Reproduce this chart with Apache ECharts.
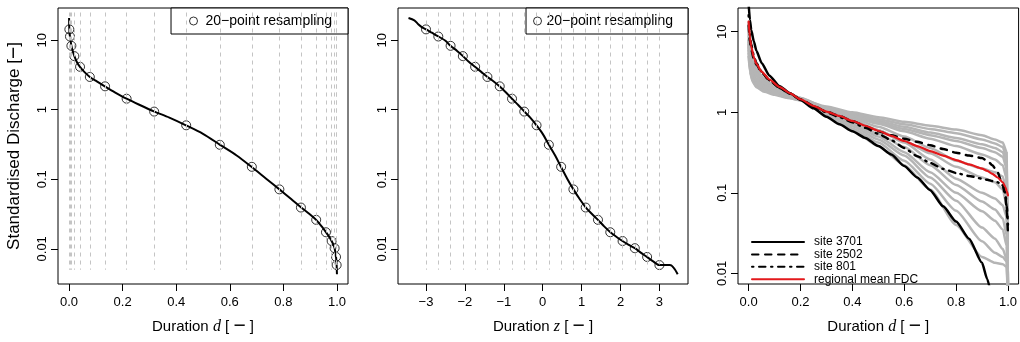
<!DOCTYPE html>
<html>
<head>
<meta charset="utf-8">
<script src="https://cdn.jsdelivr.net/npm/echarts@6/dist/echarts.min.js"></script>
<style>
  html, body { margin: 0; padding: 0; background: #fff; }
  #chart { width: 1020px; height: 342px; }
</style>
</head>
<body>
<div id="chart"></div>
<script>
  const curveZ = [-3.45, -3.3, -3.2, -3.1, -3.0, -2.85, -2.68, -2.5, -2.37, -2.2, -2.05, -1.9, -1.74, -1.58, -1.42, -1.26, -1.11, -0.95, -0.79, -0.63, -0.47, -0.32, -0.16, 0.0, 0.16, 0.32, 0.47, 0.63, 0.79, 0.95, 1.11, 1.26, 1.42, 1.58, 1.74, 1.9, 2.05, 2.2, 2.37, 2.52, 2.68, 2.84, 3.0, 3.27, 3.47];
  const curveD = [0.00028, 0.00048, 0.00069, 0.00097, 0.00135, 0.00219, 0.00368, 0.00621, 0.00889, 0.0139, 0.0202, 0.0287, 0.0409, 0.0571, 0.0778, 0.1038, 0.1335, 0.1711, 0.2148, 0.2643, 0.3192, 0.3745, 0.4364, 0.5, 0.5636, 0.6255, 0.6808, 0.7357, 0.7852, 0.8289, 0.8665, 0.8962, 0.9222, 0.9429, 0.9591, 0.9713, 0.9798, 0.9861, 0.9911, 0.9941, 0.9963, 0.99774, 0.99865, 0.99946, 0.99974];
  const curveQ = [20.8, 19.3, 17.0, 15.3, 14.3, 12.8, 11.3, 9.8, 8.3, 7.0, 5.9, 4.9, 4.14, 3.5, 2.96, 2.55, 2.17, 1.78, 1.44, 1.17, 0.94, 0.77, 0.597, 0.45, 0.313, 0.22, 0.151, 0.102, 0.0716, 0.052, 0.0392, 0.032, 0.0261, 0.021, 0.0173, 0.0148, 0.01294, 0.0115, 0.01021, 0.0088, 0.00764, 0.0066, 0.00584, 0.00584, 0.00432];

  // 20-point resampling
  const resZ = [-3.0, -2.684, -2.368, -2.053, -1.737, -1.421, -1.105, -0.789, -0.474, -0.158, 0.158, 0.474, 0.789, 1.105, 1.421, 1.737, 2.053, 2.368, 2.684, 3.0];
  const resD = [0.00135, 0.00364, 0.00894, 0.0200, 0.0412, 0.0777, 0.1346, 0.2150, 0.3178, 0.4373, 0.5627, 0.6822, 0.7850, 0.8654, 0.9223, 0.9588, 0.9800, 0.99106, 0.99636, 0.99865];
  const resQ = [14.3, 11.3, 8.3, 5.9, 4.14, 2.96, 2.17, 1.44, 0.94, 0.597, 0.313, 0.151, 0.0716, 0.0392, 0.0261, 0.0173, 0.01294, 0.01021, 0.00764, 0.00584];

  // panel 3: site curves
  const siteD = [0, 0.005, 0.01, 0.02, 0.03, 0.05, 0.08, 0.12, 0.16, 0.2, 0.25, 0.3, 0.35, 0.4, 0.45, 0.5, 0.55, 0.6, 0.65, 0.7, 0.75, 0.8, 0.85, 0.9, 0.92, 0.94, 0.96, 0.98, 0.99, 0.995, 1.0];
  const site3701 = [22, 14, 10.5, 7.6, 5.8, 4.1, 2.85, 2.1, 1.72, 1.42, 1.12, 0.88, 0.71, 0.58, 0.48, 0.38, 0.3, 0.215, 0.155, 0.108, 0.068, 0.044, 0.027, 0.0135, 0.0085, 0.0045];
  const site2502 = [12, 7.5, 6, 4.6, 3.9, 3.1, 2.5, 2.0, 1.7, 1.45, 1.2, 1.02, 0.9, 0.78, 0.67, 0.58, 0.52, 0.47, 0.43, 0.39, 0.35, 0.315, 0.29, 0.27, 0.25, 0.22, 0.18, 0.123, 0.09, 0.06, 0.032];
  const site801 = [16, 9, 7, 5, 4.1, 3.2, 2.5, 2.0, 1.7, 1.45, 1.18, 1.0, 0.87, 0.75, 0.64, 0.54, 0.45, 0.36, 0.285, 0.235, 0.198, 0.176, 0.162, 0.15, 0.145, 0.14, 0.135, 0.125, 0.1, 0.07, 0.04];
  const regionalMean = [13.4, 8.5, 6.6, 4.8, 4.0, 3.2, 2.55, 2.05, 1.72, 1.45, 1.2, 1.02, 0.9, 0.78, 0.68, 0.59, 0.51, 0.44, 0.38, 0.33, 0.29, 0.255, 0.225, 0.2, 0.187, 0.172, 0.155, 0.135, 0.118, 0.105, 0.093];

  // panel 3: other sites of the region (grey)
  const grayD = [0, 0.005, 0.015, 0.03, 0.06, 0.1, 0.15, 0.2, 0.3, 0.4, 0.5, 0.6, 0.7, 0.8, 0.9, 0.95, 0.98, 0.995, 1.0];
  const grayQ = [
    [6, 3.6, 2.6, 2.2, 1.9, 1.7, 1.55, 1.45, 1.18, 1.0, 0.87, 0.76, 0.68, 0.61, 0.52, 0.46, 0.42, 0.32, 0.006],
    [5, 3.2, 2.4, 2.05, 1.8, 1.65, 1.5, 1.42, 1.15, 0.96, 0.82, 0.71, 0.62, 0.55, 0.46, 0.41, 0.37, 0.27, 0.006],
    [7, 4.0, 2.9, 2.4, 2.0, 1.8, 1.6, 1.48, 1.12, 0.93, 0.78, 0.66, 0.56, 0.48, 0.4, 0.36, 0.32, 0.23, 0.006],
    [5.5, 3.3, 2.5, 2.1, 1.85, 1.68, 1.52, 1.4, 1.1, 0.9, 0.75, 0.62, 0.52, 0.44, 0.36, 0.32, 0.28, 0.2, 0.006],
    [8, 4.5, 3.2, 2.6, 2.2, 1.9, 1.65, 1.5, 1.14, 0.88, 0.72, 0.58, 0.47, 0.38, 0.3, 0.26, 0.22, 0.15, 0.006],
    [6.5, 3.9, 2.8, 2.3, 1.95, 1.75, 1.58, 1.45, 1.08, 0.85, 0.66, 0.5, 0.36, 0.25, 0.2, 0.18, 0.16, 0.1, 0.005],
    [7.5, 4.4, 3.1, 2.5, 2.05, 1.8, 1.6, 1.45, 1.04, 0.8, 0.6, 0.44, 0.31, 0.21, 0.155, 0.135, 0.11, 0.07, 0.005],
    [9, 5.5, 3.7, 2.9, 2.4, 2.0, 1.7, 1.5, 1.05, 0.8, 0.6, 0.42, 0.26, 0.15, 0.1, 0.085, 0.07, 0.05, 0.006],
    [7, 4.3, 3.1, 2.5, 2.1, 1.85, 1.6, 1.45, 1.0, 0.75, 0.54, 0.37, 0.22, 0.125, 0.078, 0.062, 0.048, 0.03, 0.005],
    [10, 6, 4.0, 3.1, 2.5, 2.05, 1.72, 1.48, 0.98, 0.71, 0.5, 0.32, 0.18, 0.1, 0.059, 0.045, 0.035, 0.022, 0.005],
    [8, 5, 3.5, 2.8, 2.3, 1.95, 1.65, 1.45, 0.95, 0.67, 0.46, 0.29, 0.155, 0.08, 0.037, 0.027, 0.02, 0.015, 0.004],
    [11, 6.5, 4.3, 3.3, 2.6, 2.1, 1.75, 1.5, 0.93, 0.63, 0.42, 0.25, 0.13, 0.06, 0.025, 0.018, 0.016, 0.014, 0.004],
    [12, 7, 4.4, 3.4, 2.6, 2.1, 1.72, 1.45, 0.9, 0.6, 0.38, 0.22, 0.11, 0.04, 0.016, 0.0135, 0.013, 0.012, 0.004]
  ];

  const dTicks = [0, 0.2, 0.4, 0.6, 0.8, 1.0];
  const zTicks = [-3, -2, -1, 0, 1, 2, 3];
  const qTicks = [0.01, 0.1, 1, 10];
  const vLineTop = 25, vLineBottom = 0.005;

  const FONT = '"Liberation Sans", Arial, Helvetica, sans-serif';
  const chart = echarts.init(document.getElementById('chart'));

  const pairs = (xs, ys) => ys.map((y, i) => [xs[i], y]);
  const minus = v => (v < 0 ? '\u2212' + Math.abs(v) : String(v));
  const richMinus = { m: { fontSize: 21, color: '#000', fontFamily: FONT } };

  function xAxisFor(i, min, max, ticks, fmt, sym) {
    return {
      type: 'value', gridIndex: i, min: min, max: max,
      axisLine: { show: false, onZero: false }, splitLine: { show: false },
      axisTick: { show: true, length: 7, customValues: ticks, lineStyle: { color: '#000', width: 1 } },
      axisLabel: { customValues: ticks, formatter: fmt, margin: 12, fontSize: 13, color: '#000', fontFamily: FONT },
      name: 'Duration {i|' + sym + '} [ {m|\u2212} ]', nameLocation: 'middle', nameGap: 32,
      nameTextStyle: {
        fontSize: 15, color: '#000', fontFamily: FONT,
        rich: Object.assign({ i: { fontSize: 16, fontStyle: 'italic', fontFamily: '"Liberation Serif", "DejaVu Serif", serif', color: '#000' } }, richMinus)
      }
    };
  }
  function yAxisFor(i, min, max, name) {
    return {
      type: 'log', logBase: 10, gridIndex: i, min: min, max: max,
      axisLine: { show: false, onZero: false }, splitLine: { show: false },
      axisTick: { show: true, length: 7, customValues: qTicks, lineStyle: { color: '#000', width: 1 } },
      axisLabel: { customValues: qTicks, formatter: v => String(v), rotate: 90, margin: 9, fontSize: 13, color: '#000', fontFamily: FONT },
      name: name, nameLocation: 'middle', nameGap: 33,
      nameTextStyle: { fontSize: 17, color: '#000', fontFamily: FONT, rich: richMinus }
    };
  }

  function vLines(i, xs) {
    return {
      type: 'line', xAxisIndex: i, yAxisIndex: i, data: [], silent: true, z: 1,
      markLine: {
        symbol: ['none', 'none'], silent: true, animation: false,
        label: { show: false },
        lineStyle: { color: '#c4c4c4', width: 1, type: [4, 4] },
        emphasis: { disabled: true },
        data: xs.map(x => [{ coord: [x, vLineTop] }, { coord: [x, vLineBottom] }])
      }
    };
  }
  function fdcLine(i, xs) {
    return {
      type: 'line', xAxisIndex: i, yAxisIndex: i, data: pairs(xs, curveQ), z: 2,
      symbol: 'none', smooth: 0.3, lineStyle: { color: '#000', width: 2 }, silent: true
    };
  }
  function resPoints(i, xs) {
    return {
      name: '20\u2212point resampling', type: 'scatter', xAxisIndex: i, yAxisIndex: i, z: 3,
      data: pairs(xs, resQ), symbol: 'circle', symbolSize: 9, silent: true,
      itemStyle: { color: 'rgba(0,0,0,0)', borderColor: '#000', borderWidth: 1 }
    };
  }
  function siteLine(name, ys, color, width, type, z) {
    return {
      name: name, type: 'line', xAxisIndex: 2, yAxisIndex: 2, data: pairs(siteD, ys), z: z,
      symbol: 'none', smooth: 0.2, smoothMonotone: 'x', silent: true,
      itemStyle: { color: 'rgba(0,0,0,0)' },
      lineStyle: { color: color, width: width, type: type, cap: 'round' }
    };
  }

  const series = [
    vLines(0, resD), fdcLine(0, curveD), resPoints(0, resD),
    vLines(1, resZ), fdcLine(1, curveZ), resPoints(1, resZ)
  ];
  grayQ.forEach((ys, k) => series.push({
    name: 'grey ' + k, type: 'line', xAxisIndex: 2, yAxisIndex: 2, data: pairs(grayD, ys), z: 2,
    symbol: 'none', smooth: 0.2, smoothMonotone: 'x', silent: true,
    lineStyle: { color: '#b5b5b5', width: 2.5 }
  }));
  series.push(siteLine('site 3701', site3701, '#000', 2.5, 'solid', 3));
  series.push(siteLine('site 2502', site2502, '#000', 2.4, [6.5, 6.5], 3));
  series.push(siteLine('site 801', site801, '#000', 2.4, [1.5, 5.5, 6.5, 5.5], 3));
  series.push(siteLine('regional mean FDC', regionalMean, '#e3191c', 2.2, 'solid', 4));

  const boxLegend = (right, pad, textPad) => ({
    data: ['20\u2212point resampling'], right: right, top: 8, orient: 'horizontal',
    padding: pad, itemWidth: 8, itemHeight: 8, selectedMode: false,
    borderColor: '#000', borderWidth: 1, borderRadius: 0, backgroundColor: '#fff',
    itemStyle: { color: 'rgba(0,0,0,0)', borderColor: '#000', borderWidth: 1 },
    textStyle: { fontSize: 14, color: '#000', fontFamily: FONT, padding: textPad }
  });

  chart.setOption({
    animation: false,
    backgroundColor: '#fff',
    textStyle: { fontFamily: FONT },
    grid: [0, 1, 2].map(i => ({
      left: 58 + 340 * i, top: 8, width: 290, height: 283,
      show: true, borderColor: '#000', borderWidth: 1, backgroundColor: 'transparent'
    })),
    xAxis: [
      xAxisFor(0, -0.041, 1.041, dTicks, v => v.toFixed(1), 'd'),
      xAxisFor(1, -3.72, 3.735, zTicks, minus, 'z'),
      xAxisFor(2, -0.041, 1.041, dTicks, v => v.toFixed(1), 'd')
    ],
    yAxis: [
      yAxisFor(0, 0.003119, 29.03, 'Standardised Discharge [{m|\u2212}]'),
      yAxisFor(1, 0.003119, 29.03, ''),
      yAxisFor(2, 0.00738, 19.7, '')
    ],
    legend: [
      boxLegend(672, [6, 16, 6, 18], [0, 0, 0, 3]),
      boxLegend(332, [6, 15, 6, 7], [0, 0, 0, 0]),
      {
        data: ['site 3701', 'site 2502', 'site 801', 'regional mean FDC'],
        left: 751, top: 236, orient: 'vertical', padding: 0,
        itemWidth: 52, itemHeight: 11, itemGap: 0.4, selectedMode: false,
        itemStyle: { color: 'rgba(0,0,0,0)', borderColor: 'rgba(0,0,0,0)', borderWidth: 0, opacity: 0 },
        textStyle: { fontSize: 12, lineHeight: 11, color: '#000', fontFamily: FONT, padding: [0, 0, 0, 5] }
      }
    ],
    series: series
  });
</script>
</body>
</html>
